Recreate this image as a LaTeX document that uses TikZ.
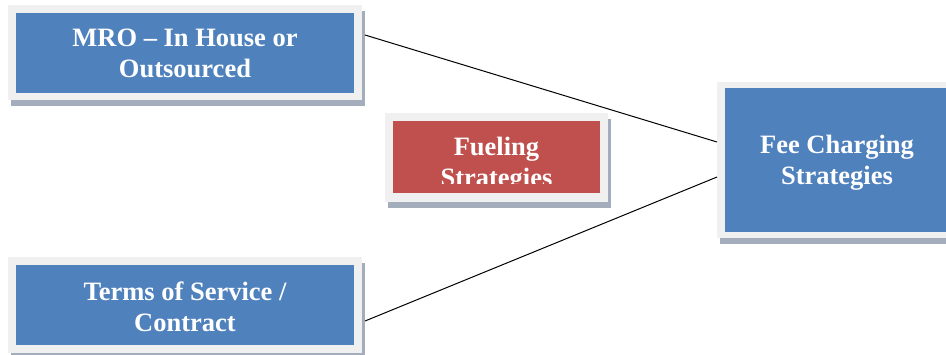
\documentclass[tikz,border=0pt]{standalone}
\usepackage{fontspec}
\setmainfont{Liberation Serif}
\usetikzlibrary{calc}
\definecolor{boxblue}{HTML}{4F81BD}
\definecolor{boxred}{HTML}{C0504D}
\definecolor{framegray}{HTML}{F0F0F0}
\definecolor{shadowgray}{HTML}{A3ADBB}
\begin{document}
\begin{tikzpicture}[x=1pt,y=-1pt,
  shadowbox/.style={fill=shadowgray, draw=none, inner sep=0, outer sep=0, rectangle},
  framebox/.style={fill=framegray, draw=none, inner sep=0, outer sep=0, rectangle},
  innerbox/.style={draw=none, inner sep=0, outer sep=0, rectangle},
  boxlabel/.style={text=white, font=\bfseries\fontsize{26.5}{31}\selectfont, align=center, inner sep=0},
  link/.style={draw=black, line width=1pt}]
\clip (0,0) rectangle (946,354);
% MRO box
\node[shadowbox, minimum width=354, minimum height=95] (mroS) at (188,58.5) {};
\node[framebox, minimum width=354, minimum height=95] (mroF) at (185,52.5) {};
\node[innerbox, fill=boxblue, minimum width=338, minimum height=80] (mroI) at (185,53) {};
\node[boxlabel] (mroT) at (185,53.6) {MRO – In House or\\Outsourced};
% Fueling box
\node[shadowbox, minimum width=223, minimum height=89] (fuelS) at (499.5,163.5) {};
\node[framebox, minimum width=223, minimum height=89] (fuelF) at (496.5,157.5) {};
\node[innerbox, fill=boxred, minimum width=207, minimum height=72] (fuelI) at (496.5,157) {};
\begin{scope}
\clip (fuelI.north west) rectangle ($(fuelI.south east)+(0,-10)$);
\node[boxlabel] (fuelT) at (496.5,164.4) {Fueling\\Strategies};
\end{scope}
% Fee box
\node[shadowbox, minimum width=240, minimum height=156] (feeS) at (840,166) {};
\node[framebox, minimum width=240, minimum height=156] (feeF) at (837,160) {};
\node[innerbox, fill=boxblue, minimum width=224, minimum height=144] (feeI) at (837,160) {};
\node[boxlabel] (feeT) at (837,162.4) {Fee Charging\\Strategies};
% Terms box
\node[shadowbox, minimum width=354, minimum height=96] (tosS) at (188,311) {};
\node[framebox, minimum width=354, minimum height=96] (tosF) at (185,305) {};
\node[innerbox, fill=boxblue, minimum width=338, minimum height=80] (tosI) at (185,305) {};
\node[boxlabel] (tosT) at (185,306.5) {Terms of Service /\\Contract};
% connectors
\draw[link] ($(mroS.east)+(0,-23.5)$) -- ($(feeF.west)+(0,-18)$);
\draw[link] ($(tosS.east)+(0,10)$) -- ($(feeF.west)+(0,17)$);
\end{tikzpicture}
\end{document}
